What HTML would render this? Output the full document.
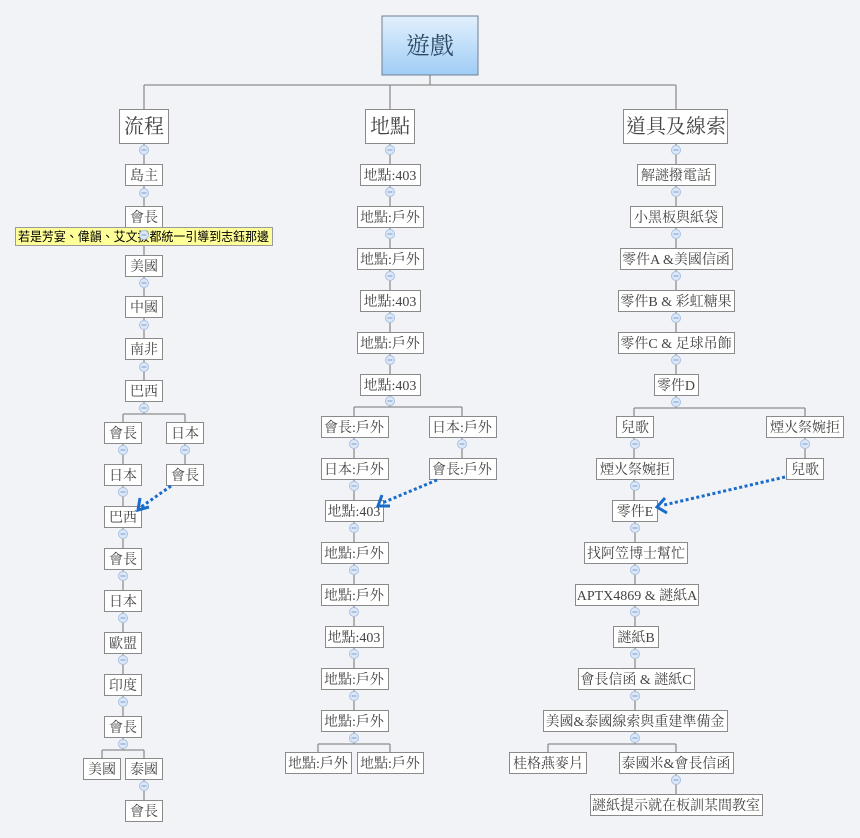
<!DOCTYPE html>
<html><head><meta charset="utf-8"><style>
html,body{margin:0;padding:0;background:#f1f3f7;}
svg{display:block;}
text{font-family:"Liberation Serif","Noto Serif CJK TC","Noto Serif CJK SC",serif;font-size:14px;fill:#444;text-anchor:middle;}
.n{fill:#fff;stroke:#8a8a8a;stroke-width:1;}
.l{stroke:#8f8f8f;stroke-width:1.3;fill:none;}
.c{fill:#dce8f8;stroke:#a8c0e0;stroke-width:1;}
.cm{stroke:#7d9cc8;stroke-width:1;}
.ar{stroke:#1a6ccc;stroke-width:3;stroke-dasharray:3,2.5;fill:none;}
.ah{stroke:#1a6ccc;stroke-width:3;fill:none;}
</style></head><body>
<svg width="860" height="838" xmlns="http://www.w3.org/2000/svg">
<defs><linearGradient id="g" x1="0" y1="0" x2="0" y2="1"><stop offset="0" stop-color="#e2f0fd"/><stop offset="1" stop-color="#9fcdf5"/></linearGradient></defs>
<path class="l" d="M430 75V85M144 85H676M144 85V109M390 85V109M676 85V109"/>
<path class="l" d="M144 143V380M144 402V414M123 414H185M123 414V738M185 414V464M123 738V750M102 750H144M102 750V758M144 750V800"/>
<path class="l" d="M390 143V374M390 396V407M354 407H462M354 407V732M462 407V458M354 732V744M318 744H390M318 744V752M390 744V752"/>
<path class="l" d="M676 143V374M676 396V408M634 408H805M634 408V500M635 500V732M805 408V458M635 732V744M548 744H676M548 744V752M676 744V794"/>

<rect x="382" y="16" width="96" height="59" fill="url(#g)" stroke="#6f7f90"/>
<text x="430" y="54" style="font-size:24px;fill:#2f4a66">遊戲</text>
<rect class="n" x="119.5" y="109.5" width="49" height="34"/><text x="144" y="133" style="font-size:20px">流程</text>
<rect class="n" x="365.5" y="109.5" width="49" height="34"/><text x="390" y="133" style="font-size:20px">地點</text>
<rect class="n" x="623.5" y="109.5" width="104" height="34"/><text x="676" y="133" style="font-size:20px">道具及線索</text>

<g>
<rect class="n" x="125.5" y="164.5" width="37" height="21"/><text x="144" y="180">島主</text>
<rect class="n" x="125.5" y="206.5" width="37" height="21"/><text x="144" y="222">會長</text>
<rect class="n" x="125.5" y="255.5" width="37" height="21"/><text x="144" y="271">美國</text>
<rect class="n" x="125.5" y="296.5" width="37" height="21"/><text x="144" y="312">中國</text>
<rect class="n" x="125.5" y="338.5" width="37" height="21"/><text x="144" y="354">南非</text>
<rect class="n" x="125.5" y="380.5" width="37" height="21"/><text x="144" y="396">巴西</text>
<rect class="n" x="104.5" y="422.5" width="37" height="21"/><text x="123" y="438">會長</text>
<rect class="n" x="166.5" y="422.5" width="37" height="21"/><text x="185" y="438">日本</text>
<rect class="n" x="104.5" y="464.5" width="37" height="21"/><text x="123" y="480">日本</text>
<rect class="n" x="166.5" y="464.5" width="37" height="21"/><text x="185" y="480">會長</text>
<rect class="n" x="104.5" y="506.5" width="37" height="21"/><text x="123" y="522">巴西</text>
<rect class="n" x="104.5" y="548.5" width="37" height="21"/><text x="123" y="564">會長</text>
<rect class="n" x="104.5" y="590.5" width="37" height="21"/><text x="123" y="606">日本</text>
<rect class="n" x="104.5" y="632.5" width="37" height="21"/><text x="123" y="648">歐盟</text>
<rect class="n" x="104.5" y="674.5" width="37" height="21"/><text x="123" y="690">印度</text>
<rect class="n" x="104.5" y="716.5" width="37" height="21"/><text x="123" y="732">會長</text>
<rect class="n" x="83.5" y="758.5" width="37" height="21"/><text x="102" y="774">美國</text>
<rect class="n" x="125.5" y="758.5" width="37" height="21"/><text x="144" y="774">泰國</text>
<rect class="n" x="125.5" y="800.5" width="37" height="21"/><text x="144" y="816">會長</text>
</g>
<g>
<rect class="n" x="360.5" y="164.5" width="60" height="21"/><text x="390" y="180">地點:403</text>
<rect class="n" x="357.5" y="206.5" width="66" height="21"/><text x="390" y="222">地點:戶外</text>
<rect class="n" x="357.5" y="248.5" width="66" height="21"/><text x="390" y="264">地點:戶外</text>
<rect class="n" x="360.5" y="290.5" width="60" height="21"/><text x="390" y="306">地點:403</text>
<rect class="n" x="357.5" y="332.5" width="66" height="21"/><text x="390" y="348">地點:戶外</text>
<rect class="n" x="360.5" y="374.5" width="60" height="21"/><text x="390" y="390">地點:403</text>
<rect class="n" x="321.5" y="416.5" width="67" height="21"/><text x="354" y="432">會長:戶外</text>
<rect class="n" x="429.5" y="416.5" width="67" height="21"/><text x="462" y="432">日本:戶外</text>
<rect class="n" x="321.5" y="458.5" width="67" height="21"/><text x="354" y="474">日本:戶外</text>
<rect class="n" x="429.5" y="458.5" width="67" height="21"/><text x="462" y="474">會長:戶外</text>
<rect class="n" x="325.5" y="500.5" width="58" height="21"/><text x="354" y="516">地點:403</text>
<rect class="n" x="321.5" y="542.5" width="67" height="21"/><text x="354" y="558">地點:戶外</text>
<rect class="n" x="321.5" y="584.5" width="67" height="21"/><text x="354" y="600">地點:戶外</text>
<rect class="n" x="325.5" y="626.5" width="58" height="21"/><text x="354" y="642">地點:403</text>
<rect class="n" x="321.5" y="668.5" width="67" height="21"/><text x="354" y="684">地點:戶外</text>
<rect class="n" x="321.5" y="710.5" width="67" height="21"/><text x="354" y="726">地點:戶外</text>
<rect class="n" x="285.5" y="752.5" width="66" height="21"/><text x="318" y="768">地點:戶外</text>
<rect class="n" x="357.5" y="752.5" width="66" height="21"/><text x="390" y="768">地點:戶外</text>
</g>
<g>
<rect class="n" x="637.5" y="164.5" width="78" height="21"/><text x="676" y="180">解謎撥電話</text>
<rect class="n" x="630.5" y="206.5" width="92" height="21"/><text x="676" y="222">小黑板與紙袋</text>
<rect class="n" x="620.5" y="248.5" width="112" height="21"/><text x="676" y="264">零件A &amp;美國信函</text>
<rect class="n" x="618.5" y="290.5" width="116" height="21"/><text x="676" y="306">零件B &amp; 彩虹糖果</text>
<rect class="n" x="618.5" y="332.5" width="116" height="21"/><text x="676" y="348">零件C &amp; 足球吊飾</text>
<rect class="n" x="654.5" y="374.5" width="44" height="21"/><text x="676" y="390">零件D</text>
<rect class="n" x="616.5" y="416.5" width="37" height="21"/><text x="635" y="432">兒歌</text>
<rect class="n" x="766.5" y="416.5" width="77" height="21"/><text x="805" y="432">煙火祭婉拒</text>
<rect class="n" x="596.5" y="458.5" width="77" height="21"/><text x="635" y="474">煙火祭婉拒</text>
<rect class="n" x="786.5" y="458.5" width="37" height="21"/><text x="805" y="474">兒歌</text>
<rect class="n" x="612.5" y="500.5" width="45" height="21"/><text x="635" y="516">零件E</text>
<rect class="n" x="584.5" y="542.5" width="103" height="21"/><text x="636" y="558">找阿笠博士幫忙</text>
<rect class="n" x="575.5" y="584.5" width="123" height="21"/><text x="637" y="600">APTX4869 &amp; 謎紙A</text>
<rect class="n" x="613.5" y="626.5" width="45" height="21"/><text x="636" y="642">謎紙B</text>
<rect class="n" x="578.5" y="668.5" width="116" height="21"/><text x="636" y="684">會長信函 &amp; 謎紙C</text>
<rect class="n" x="543.5" y="710.5" width="184" height="21"/><text x="635" y="726">美國&amp;泰國線索與重建準備金</text>
<rect class="n" x="509.5" y="752.5" width="77" height="21"/><text x="548" y="768">桂格燕麥片</text>
<rect class="n" x="619.5" y="752.5" width="114" height="21"/><text x="676" y="768">泰國米&amp;會長信函</text>
<rect class="n" x="590.5" y="794.5" width="172" height="21"/><text x="676" y="810">謎紙提示就在板訓某間教室</text>
</g>

<rect x="15.5" y="227.5" width="257" height="18" fill="#ffff9a" stroke="#9a9a9a"/>
<text x="18" y="241" textLength="251" lengthAdjust="spacingAndGlyphs" style="font-size:12.5px;fill:#000;text-anchor:start;font-family:'Liberation Sans','Noto Sans CJK TC',sans-serif">若是芳宴、偉韻、艾文拔都統一引導到志鈺那邊</text>

<g>
<g transform="translate(144,150)"><circle class="c" r="4.5"/><path class="cm" d="M-2.5 0H2.5"/></g>
<g transform="translate(144,193)"><circle class="c" r="4.5"/><path class="cm" d="M-2.5 0H2.5"/></g>
<g transform="translate(144,235)"><circle class="c" r="4.5"/><path class="cm" d="M-2.5 0H2.5"/></g>
<g transform="translate(144,283)"><circle class="c" r="4.5"/><path class="cm" d="M-2.5 0H2.5"/></g>
<g transform="translate(144,325)"><circle class="c" r="4.5"/><path class="cm" d="M-2.5 0H2.5"/></g>
<g transform="translate(144,367)"><circle class="c" r="4.5"/><path class="cm" d="M-2.5 0H2.5"/></g>
<g transform="translate(144,408)"><circle class="c" r="4.5"/><path class="cm" d="M-2.5 0H2.5"/></g>
<g transform="translate(123,450)"><circle class="c" r="4.5"/><path class="cm" d="M-2.5 0H2.5"/></g>
<g transform="translate(185,450)"><circle class="c" r="4.5"/><path class="cm" d="M-2.5 0H2.5"/></g>
<g transform="translate(123,492)"><circle class="c" r="4.5"/><path class="cm" d="M-2.5 0H2.5"/></g>
<g transform="translate(123,534)"><circle class="c" r="4.5"/><path class="cm" d="M-2.5 0H2.5"/></g>
<g transform="translate(123,576)"><circle class="c" r="4.5"/><path class="cm" d="M-2.5 0H2.5"/></g>
<g transform="translate(123,618)"><circle class="c" r="4.5"/><path class="cm" d="M-2.5 0H2.5"/></g>
<g transform="translate(123,660)"><circle class="c" r="4.5"/><path class="cm" d="M-2.5 0H2.5"/></g>
<g transform="translate(123,702)"><circle class="c" r="4.5"/><path class="cm" d="M-2.5 0H2.5"/></g>
<g transform="translate(123,744)"><circle class="c" r="4.5"/><path class="cm" d="M-2.5 0H2.5"/></g>
<g transform="translate(144,786)"><circle class="c" r="4.5"/><path class="cm" d="M-2.5 0H2.5"/></g>

<g transform="translate(390,150)"><circle class="c" r="4.5"/><path class="cm" d="M-2.5 0H2.5"/></g>
<g transform="translate(390,192)"><circle class="c" r="4.5"/><path class="cm" d="M-2.5 0H2.5"/></g>
<g transform="translate(390,234)"><circle class="c" r="4.5"/><path class="cm" d="M-2.5 0H2.5"/></g>
<g transform="translate(390,276)"><circle class="c" r="4.5"/><path class="cm" d="M-2.5 0H2.5"/></g>
<g transform="translate(390,318)"><circle class="c" r="4.5"/><path class="cm" d="M-2.5 0H2.5"/></g>
<g transform="translate(390,360)"><circle class="c" r="4.5"/><path class="cm" d="M-2.5 0H2.5"/></g>
<g transform="translate(390,401)"><circle class="c" r="4.5"/><path class="cm" d="M-2.5 0H2.5"/></g>
<g transform="translate(354,444)"><circle class="c" r="4.5"/><path class="cm" d="M-2.5 0H2.5"/></g>
<g transform="translate(462,444)"><circle class="c" r="4.5"/><path class="cm" d="M-2.5 0H2.5"/></g>
<g transform="translate(354,486)"><circle class="c" r="4.5"/><path class="cm" d="M-2.5 0H2.5"/></g>
<g transform="translate(354,528)"><circle class="c" r="4.5"/><path class="cm" d="M-2.5 0H2.5"/></g>
<g transform="translate(354,570)"><circle class="c" r="4.5"/><path class="cm" d="M-2.5 0H2.5"/></g>
<g transform="translate(354,612)"><circle class="c" r="4.5"/><path class="cm" d="M-2.5 0H2.5"/></g>
<g transform="translate(354,654)"><circle class="c" r="4.5"/><path class="cm" d="M-2.5 0H2.5"/></g>
<g transform="translate(354,696)"><circle class="c" r="4.5"/><path class="cm" d="M-2.5 0H2.5"/></g>
<g transform="translate(354,738)"><circle class="c" r="4.5"/><path class="cm" d="M-2.5 0H2.5"/></g>

<g transform="translate(676,150)"><circle class="c" r="4.5"/><path class="cm" d="M-2.5 0H2.5"/></g>
<g transform="translate(676,192)"><circle class="c" r="4.5"/><path class="cm" d="M-2.5 0H2.5"/></g>
<g transform="translate(676,234)"><circle class="c" r="4.5"/><path class="cm" d="M-2.5 0H2.5"/></g>
<g transform="translate(676,276)"><circle class="c" r="4.5"/><path class="cm" d="M-2.5 0H2.5"/></g>
<g transform="translate(676,318)"><circle class="c" r="4.5"/><path class="cm" d="M-2.5 0H2.5"/></g>
<g transform="translate(676,360)"><circle class="c" r="4.5"/><path class="cm" d="M-2.5 0H2.5"/></g>
<g transform="translate(676,402)"><circle class="c" r="4.5"/><path class="cm" d="M-2.5 0H2.5"/></g>
<g transform="translate(635,444)"><circle class="c" r="4.5"/><path class="cm" d="M-2.5 0H2.5"/></g>
<g transform="translate(805,444)"><circle class="c" r="4.5"/><path class="cm" d="M-2.5 0H2.5"/></g>
<g transform="translate(635,486)"><circle class="c" r="4.5"/><path class="cm" d="M-2.5 0H2.5"/></g>
<g transform="translate(635,528)"><circle class="c" r="4.5"/><path class="cm" d="M-2.5 0H2.5"/></g>
<g transform="translate(635,570)"><circle class="c" r="4.5"/><path class="cm" d="M-2.5 0H2.5"/></g>
<g transform="translate(635,612)"><circle class="c" r="4.5"/><path class="cm" d="M-2.5 0H2.5"/></g>
<g transform="translate(635,654)"><circle class="c" r="4.5"/><path class="cm" d="M-2.5 0H2.5"/></g>
<g transform="translate(635,696)"><circle class="c" r="4.5"/><path class="cm" d="M-2.5 0H2.5"/></g>
<g transform="translate(635,738)"><circle class="c" r="4.5"/><path class="cm" d="M-2.5 0H2.5"/></g>
<g transform="translate(676,780)"><circle class="c" r="4.5"/><path class="cm" d="M-2.5 0H2.5"/></g>
</g>

<path class="ar" d="M171 486L141 507"/>
<path class="ah" d="M140 498L138 510L149 507"/>
<path class="ar" d="M437 480L382 503"/>
<path class="ah" d="M382 495L378 506L390 506"/>
<path class="ar" d="M785 477L664 505"/>
<path class="ah" d="M665 498L657 507L667 513"/>
</svg>
</body></html>
